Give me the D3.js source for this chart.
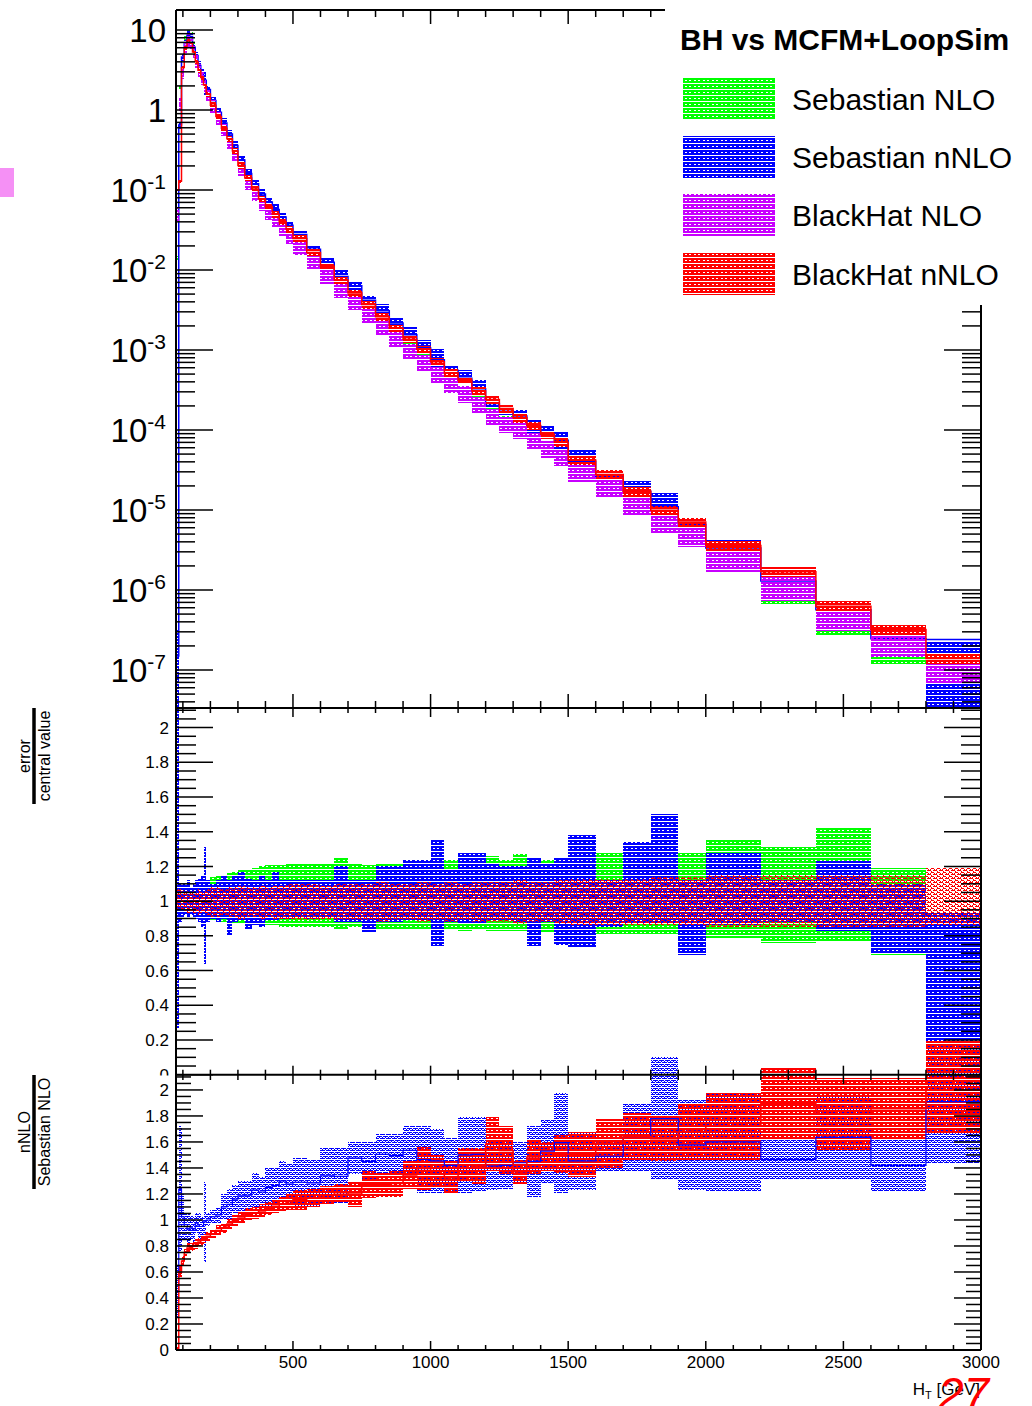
<!DOCTYPE html>
<html>
<head>
<meta charset="utf-8">
<script src="https://cdn.jsdelivr.net/npm/d3@7"></script>
<style>
  body { margin: 0; background: #fff; }
  svg { display: block; }
  text { font-family: "Liberation Sans", Arial, Helvetica, sans-serif; fill: #000; }
</style>
</head>
<body>
<svg id="chart" width="1032" height="1406"></svg>
<script>
// H_T bin edges [GeV]
const binEdges = [75,85,95,105,115,125,135,145,155,165,
  175,185,200,220,240,260,280,300,325,350,
  375,400,425,450,475,500,550,600,650,700,
  750,800,850,900,950,1000,1050,1100,1150,1200,
  1250,1300,1350,1400,1450,1500,1600,1700,1800,1900,
  2000,2200,2400,2600,2800,3000];

// dsigma/dH_T central values
const sebNLO = [0.014,1.9,4.5,8.0,9.3,8.8,6.6,4.9,3.8,3.0,
  2.4,1.8,1.28,0.9,0.63,0.45,0.31,0.2,0.135,0.098,
  0.073,0.057,0.045,0.0355,0.0285,0.0215,0.0142,0.0093,0.0062,0.0043,
  0.0029,0.00205,0.00146,0.00101,0.00073,0.00052,0.000393,0.000295,0.000217,0.000152,
  0.000121,0.000104,7.65e-5,5.94e-5,4.67e-5,2.8e-5,1.75e-5,1.04e-5,6.2e-6,4.2e-6,
  2.1e-6,8.9e-7,3.46e-7,1.73e-7,6.85e-8];
const sebNNLO = [1.5e-7,0.65,4.6,6.8,8.6,8.3,6.1,4.8,3.6,2.85,
  2.36,1.8,1.31,0.94,0.69,0.5,0.36,0.237,0.161,0.12,
  0.089,0.071,0.057,0.046,0.0363,0.0277,0.0182,0.01246,0.00828,0.00634,
  0.0042,0.00309,0.00218,0.00155,0.00107,0.000757,0.000558,0.000443,0.000327,0.000215,
  0.000172,0.00015,0.000111,9.09e-5,7.45e-5,4.07e-5,2.61e-5,1.71e-5,1.1e-5,6.6e-6,
  3.36e-6,1.3e-6,5.66e-7,2.46e-7,2.4e-7];
const bhNLO = [0.05,1.2,3.0,6.0,7.5,7.0,5.4,4.1,3.15,2.5,
  2.0,1.55,1.13,0.8,0.57,0.4,0.28,0.18,0.122,0.089,
  0.066,0.052,0.041,0.032,0.026,0.0196,0.013,0.0086,0.0058,0.004,
  0.0027,0.0019,0.00136,0.00095,0.00069,0.00049,0.00037,0.00028,0.000207,0.000147,
  0.000117,0.0001,7.4e-5,5.8e-5,4.6e-5,3.0e-5,1.9e-5,1.14e-5,6.8e-6,4.7e-6,
  2.4e-6,1.05e-6,4.4e-7,2.1e-7,9.5e-8];
const bhNNLO = [0.1,0.13,3.4,6.0,7.3,6.95,5.3,4.0,3.15,2.54,
  2.05,1.58,1.15,0.83,0.59,0.437,0.308,0.203,0.141,0.103,
  0.078,0.062,0.0497,0.04,0.0325,0.0248,0.0166,0.0111,0.0075,0.00516,
  0.0037,0.0026,0.00187,0.00136,0.00102,0.000715,0.000521,0.00042,0.000307,0.000241,
  0.000186,0.000142,0.000114,8.85e-5,7.03e-5,4.21e-5,2.78e-5,1.71e-5,9.9e-6,7.06e-6,
  3.61e-6,1.69e-6,6.28e-7,3.21e-7,1.39e-7];

// scale-variation band edges divided by the central value
const sebNLORelLo = [0.95,0.95,0.95,0.95,0.95,0.95,0.95,0.95,0.95,0.92,
  0.92,0.91,0.89,0.89,0.88,0.87,0.87,0.87,0.87,0.86,
  0.86,0.86,0.86,0.85,0.85,0.85,0.85,0.85,0.84,0.85,
  0.84,0.84,0.84,0.84,0.84,0.84,0.84,0.83,0.84,0.83,
  0.83,0.83,0.83,0.82,0.82,0.82,0.81,0.81,0.81,0.81,
  0.79,0.76,0.77,0.69,1.0];
const sebNLORelHi = [1.06,1.06,1.06,1.06,1.06,1.06,1.06,1.06,1.06,1.1,
  1.1,1.11,1.14,1.15,1.15,1.16,1.17,1.18,1.18,1.19,
  1.2,1.21,1.21,1.21,1.22,1.22,1.22,1.22,1.25,1.22,
  1.21,1.22,1.22,1.23,1.23,1.22,1.24,1.22,1.23,1.26,
  1.24,1.27,1.22,1.24,1.25,1.26,1.28,1.28,1.28,1.28,
  1.35,1.31,1.42,1.19,1.0];
const sebNNLORelLo = [0.27,0.88,0.9,0.92,0.9,0.92,0.9,0.9,0.88,0.85,
  0.64,0.88,0.9,0.88,0.9,0.8,0.88,0.89,0.84,0.86,
  0.85,0.89,0.89,0.9,0.9,0.91,0.9,0.91,0.88,0.88,
  0.82,0.88,0.88,0.89,0.89,0.74,0.88,0.87,0.87,0.89,
  0.89,0.88,0.74,0.88,0.75,0.73,0.85,0.87,0.87,0.69,
  0.86,0.88,0.83,0.7,0.0];
const sebNNLORelHi = [2.2,1.1,1.1,1.1,1.12,1.08,1.1,1.12,1.13,1.15,
  1.31,1.12,1.1,1.12,1.15,1.12,1.15,1.17,1.13,1.12,
  1.15,1.12,1.17,1.12,1.12,1.12,1.12,1.12,1.2,1.12,
  1.12,1.2,1.2,1.24,1.24,1.35,1.18,1.28,1.28,1.22,
  1.2,1.2,1.25,1.22,1.25,1.38,1.12,1.34,1.5,1.12,
  1.28,1.12,1.23,1.1,0.93];
const bhNLORelLo = [0.82,0.82,0.82,0.82,0.82,0.82,0.82,0.82,0.82,0.82,
  0.82,0.82,0.82,0.82,0.82,0.82,0.82,0.82,0.82,0.82,
  0.82,0.82,0.82,0.82,0.82,0.78,0.78,0.78,0.78,0.78,
  0.78,0.78,0.78,0.78,0.78,0.78,0.78,0.78,0.78,0.78,
  0.78,0.78,0.78,0.78,0.78,0.74,0.74,0.74,0.74,0.74,
  0.7,0.7,0.7,0.7,0.7];
const bhNLORelHi = [1.18,1.18,1.18,1.18,1.18,1.18,1.18,1.18,1.18,1.18,
  1.18,1.18,1.18,1.18,1.18,1.18,1.18,1.18,1.18,1.18,
  1.18,1.18,1.18,1.18,1.18,1.25,1.25,1.25,1.25,1.25,
  1.25,1.25,1.25,1.25,1.25,1.25,1.25,1.25,1.25,1.25,
  1.25,1.25,1.25,1.25,1.25,1.32,1.32,1.32,1.32,1.32,
  1.4,1.4,1.4,1.4,1.4];
const bhNNLORelLo = [0.95,0.95,0.95,0.93,0.93,0.94,0.93,0.93,0.92,0.93,
  0.93,0.92,0.91,0.91,0.92,0.91,0.91,0.9,0.91,0.91,
  0.9,0.91,0.9,0.9,0.9,0.89,0.89,0.9,0.89,0.89,
  0.89,0.88,0.89,0.89,0.88,0.89,0.88,0.89,0.88,0.88,
  0.88,0.87,0.88,0.88,0.87,0.86,0.86,0.86,0.86,0.86,
  0.85,0.85,0.85,0.85,0.86];
const bhNNLORelHi = [1.07,1.07,1.07,1.06,1.06,1.05,1.06,1.06,1.07,1.06,
  1.06,1.07,1.08,1.08,1.07,1.08,1.08,1.09,1.08,1.08,
  1.09,1.08,1.09,1.09,1.1,1.1,1.1,1.09,1.1,1.1,
  1.1,1.11,1.1,1.1,1.11,1.1,1.11,1.1,1.11,1.11,
  1.11,1.12,1.11,1.11,1.12,1.13,1.13,1.13,1.14,1.14,
  1.15,1.15,1.15,1.15,1.19];

// nNLO / Sebastian NLO ratio bands
const ratioSebLo = [0.25,0.75,0.85,0.85,0.8,0.85,0.82,0.9,0.85,0.88,
  0.68,0.95,0.97,0.98,1.0,1.0,1.05,1.07,1.08,1.1,
  1.1,1.1,1.13,1.15,1.12,1.1,1.1,1.13,1.12,1.35,
  1.3,1.35,1.33,1.35,1.21,1.21,1.21,1.21,1.22,1.23,
  1.24,1.28,1.18,1.28,1.21,1.23,1.38,1.38,1.31,1.23,
  1.22,1.31,1.31,1.22,1.44];
const ratioSebHi = [0.65,1.72,1.2,1.05,1.05,1.03,1.02,1.05,1.05,1.02,
  1.29,1.05,1.08,1.1,1.2,1.24,1.27,1.3,1.3,1.36,
  1.33,1.4,1.4,1.45,1.43,1.48,1.47,1.55,1.55,1.6,
  1.6,1.66,1.66,1.72,1.72,1.7,1.63,1.79,1.79,1.6,
  1.6,1.6,1.72,1.78,1.98,1.68,1.6,1.9,2.25,1.92,
  1.98,1.62,1.96,1.62,2.38];
const ratioBhLo = [0.0,0.55,0.65,0.72,0.75,0.76,0.77,0.78,0.8,0.81,
  0.82,0.84,0.86,0.88,0.9,0.93,0.95,0.97,1.0,1.01,
  1.02,1.04,1.05,1.07,1.08,1.08,1.1,1.12,1.14,1.1,
  1.17,1.18,1.18,1.24,1.23,1.25,1.2,1.3,1.28,1.38,
  1.35,1.28,1.35,1.38,1.36,1.33,1.4,1.46,1.45,1.46,
  1.46,1.62,1.54,1.62,1.67];
const ratioBhHi = [0.02,0.65,0.72,0.78,0.82,0.82,0.83,0.85,0.86,0.88,
  0.89,0.91,0.93,0.96,0.98,1.01,1.04,1.06,1.09,1.1,
  1.12,1.14,1.16,1.18,1.2,1.23,1.24,1.26,1.28,1.3,
  1.38,1.36,1.38,1.45,1.56,1.5,1.45,1.55,1.55,1.79,
  1.72,1.46,1.62,1.6,1.65,1.68,1.78,1.82,1.8,1.9,
  1.98,2.17,2.09,2.09,2.38];

const legendLabels = ["Sebastian NLO", "Sebastian nNLO", "BlackHat NLO", "BlackHat nNLO"];
const xTickLabels = [500, 1000, 1500, 2000, 2500, 3000];

const colGreen = "#00ff00", colBlue = "#0000ff", colViolet = "#c800ff", colRed = "#ff0000";

const svg = d3.select("#chart");
const defs = svg.append("defs");

// hatch-like fill patterns (gaps stay transparent so overlapping bands mix)
const patternSpecs = {
  dense: { w: 9, h: 6, r: [[0,0,9,2],[0,2,1,1],[3,2,2,1],[7,2,2,1],[0,3,9,2]] },
  light: { w: 6, h: 4, r: [[0,0,4,1],[5,0,1,1],[1,1,1,1],[4,1,1,1],[0,2,1,1],[2,2,4,1]] },
  rings: { w: 6, h: 4, r: [[1,0,3,1],[0,1,1,1],[4,1,1,1],[3,2,3,1],[1,3,1,1],[0,2,1,1]] }
};
function addPattern(id, color, kind) {
  const spec = patternSpecs[kind];
  const p = defs.append("pattern").attr("id", id)
    .attr("patternUnits", "userSpaceOnUse").attr("width", spec.w).attr("height", spec.h);
  p.selectAll("rect").data(spec.r).join("rect")
    .attr("x", d => d[0]).attr("y", d => d[1]).attr("width", d => d[2]).attr("height", d => d[3])
    .attr("fill", color).attr("shape-rendering", "crispEdges");
}
addPattern("pGreen", colGreen, "dense");
addPattern("pBlue", colBlue, "dense");
addPattern("pViolet", colViolet, "dense");
addPattern("pRed", colRed, "dense");
addPattern("pRedRings", colRed, "rings");
addPattern("pBlueLight", colBlue, "light");

// geometry of the three stacked pads
const X0 = 176, X1 = 981;
const topY0 = 10, topY1 = 708;
const midY0 = 708, midY1 = 1074.7;
const botY0 = 1075, botY1 = 1350;

const x = d3.scaleLinear().domain([75, 3000]).range([X0, X1]);
const yTop = d3.scaleLog().domain([Math.pow(10, -7.475), Math.pow(10, 1.25)]).range([topY1, topY0]).clamp(true);
const yMid = d3.scaleLinear().domain([0, 2.113]).range([midY1, midY0]);
const yBot = d3.scaleLinear().domain([0, 2.115]).range([botY1, botY0]);

function clip(id, y0, y1) {
  defs.append("clipPath").attr("id", id).append("rect")
    .attr("x", X0).attr("y", y0).attr("width", X1 - X0).attr("height", y1 - y0);
}
clip("cTop", topY0, topY1);
clip("cMid", 690, midY1);
clip("cBot", 1040, botY1);

const idx = d3.range(binEdges.length - 1);

function drawBands(g, yScale, lo, hi, fill) {
  const dmin = yScale.domain()[0];
  g.append("g").selectAll("rect").data(idx.filter(i => hi[i] > lo[i])).join("rect")
    .attr("x", i => x(binEdges[i]))
    .attr("width", i => x(binEdges[i + 1]) - x(binEdges[i]))
    .attr("y", i => yScale(hi[i]))
    .attr("height", i => Math.max(0, yScale(Math.max(lo[i], dmin)) - yScale(hi[i])))
    .attr("fill", `url(#${fill})`)
    .attr("shape-rendering", "crispEdges");
}

function drawStep(g, yScale, vals, color, width) {
  const pts = [];
  vals.forEach((v, i) => { pts.push([x(binEdges[i]), yScale(v)]); pts.push([x(binEdges[i + 1]), yScale(v)]); });
  g.append("path").attr("d", d3.line()(pts)).attr("fill", "none")
    .attr("stroke", color).attr("stroke-width", width);
}

// ---------- upper pad: differential cross section ----------
const gTop = svg.append("g").attr("clip-path", "url(#cTop)");
const scaleBy = (c, r) => c.map((v, i) => v * r[i]);
drawBands(gTop, yTop, scaleBy(sebNLO, sebNLORelLo), scaleBy(sebNLO, sebNLORelHi), "pGreen");
drawBands(gTop, yTop, scaleBy(sebNNLO, sebNNLORelLo), scaleBy(sebNNLO, sebNNLORelHi), "pBlue");
drawStep(gTop, yTop, sebNNLO, colBlue, 1.5);
drawBands(gTop, yTop, scaleBy(bhNLO, bhNLORelLo), scaleBy(bhNLO, bhNLORelHi), "pViolet");
drawBands(gTop, yTop, scaleBy(bhNNLO, bhNNLORelLo), scaleBy(bhNNLO, bhNNLORelHi), "pRed");
drawStep(gTop, yTop, bhNNLO, colRed, 1.5);

// ---------- middle pad: relative uncertainty ----------
const gMid = svg.append("g").attr("clip-path", "url(#cMid)");
drawBands(gMid, yMid, sebNLORelLo, sebNLORelHi, "pGreen");
drawBands(gMid, yMid, sebNNLORelLo, sebNNLORelHi, "pBlue");
drawBands(gMid, yMid, bhNNLORelLo, bhNNLORelHi, "pRedRings");

// ---------- lower pad: ratio to Sebastian NLO ----------
const gBot = svg.append("g").attr("clip-path", "url(#cBot)");
drawBands(gBot, yBot, ratioSebLo, ratioSebHi, "pBlueLight");
drawBands(gBot, yBot, ratioBhLo, ratioBhHi, "pRed");
drawStep(gBot, yBot, ratioSebLo.map((v, i) => (v + ratioSebHi[i]) / 2), colBlue, 1.2);
drawStep(gBot, yBot, ratioBhLo.map((v, i) => (v + ratioBhHi[i]) / 2), colRed, 1.5);

// ---------- frames, ticks and labels ----------
const axes = svg.append("g").attr("stroke", "#000").attr("fill", "none");

function hLine(y, x0, x1, w) {
  axes.append("line").attr("x1", x0).attr("x2", x1).attr("y1", y).attr("y2", y).attr("stroke-width", w);
}
function vLine(xp, y0, y1, w) {
  axes.append("line").attr("x1", xp).attr("x2", xp).attr("y1", y0).attr("y2", y1).attr("stroke-width", w);
}

// x ticks every 100 GeV, longer every 500 GeV
const xTicks = d3.range(1, 30).map(k => k * 100);
function xTickRow(y, dir, majLen, minLen) {
  xTicks.forEach(v => {
    const len = v % 500 === 0 ? majLen : minLen;
    vLine(x(v), y, y + dir * len, 1.5);
  });
}
function yTickRow(yScale, vals, isMajor, majLen, minLen, y0, y1) {
  vals.forEach(v => {
    const yp = yScale(v);
    if (yp < y0 - 0.5 || yp > y1 + 0.5) return;
    const len = isMajor(v) ? majLen : minLen;
    hLine(yp, X0, X0 + len, 1.5);
    hLine(yp, X1 - len, X1, 1.5);
  });
}

// upper pad ticks (log axis)
const decades = d3.range(-7, 2);
const logMinor = [];
d3.range(-8, 2).forEach(d => d3.range(2, 10).forEach(k => logMinor.push(k * Math.pow(10, d))));
yTickRow(yTop, decades.map(d => Math.pow(10, d)), () => true, 37, 19, topY0, topY1);
yTickRow(yTop, logMinor, () => false, 37, 19, topY0, topY1);
xTickRow(topY0, 1, 14, 7);
xTickRow(topY1, -1, 14, 7);

// middle and lower pad ticks (linear, minor every 0.05)
const linTicks = d3.range(0, 43).map(k => k * 0.05);
const linMajor = v => Math.abs(v * 5 - Math.round(v * 5)) < 1e-6;
yTickRow(yMid, linTicks, linMajor, 37, 20, midY0, midY1);
xTickRow(midY0, 1, 9, 5);
xTickRow(midY1, -1, 9, 5);
yTickRow(yBot, linTicks, linMajor, 27, 15, botY0, botY1);
xTickRow(botY0, 1, 9, 5);
xTickRow(botY1, -1, 9, 5);

// frame lines
hLine(topY0, X0, X1, 2);
hLine(topY1, X0, X1, 2);
hLine(midY1, X0, X1, 2);
hLine(botY1, X0, X1, 2);
vLine(X0, topY0, botY1, 2);
vLine(X1, topY0, botY1, 2);

// upper pad labels
const lblTop = svg.append("g").attr("text-anchor", "end");
decades.forEach(d => {
  const t = lblTop.append("text").attr("x", 166).attr("y", yTop(Math.pow(10, d)) + 12).attr("font-size", 33);
  if (d === 0) t.text("1");
  else if (d === 1) t.text("10");
  else {
    t.append("tspan").text("10");
    t.append("tspan").attr("font-size", 21).attr("dy", -13).text(String(d));
  }
});

// middle and lower pad labels
function linLabels(yScale) {
  const g = svg.append("g").attr("text-anchor", "end").attr("font-size", 17);
  d3.range(0, 11).map(k => k * 0.2).forEach(v => {
    g.append("text").attr("x", 169).attr("y", yScale(v)).attr("dy", "0.36em")
      .text(String(+v.toFixed(1)));
  });
}
linLabels(yMid);
// lower pad background starts at its frame and hides the lower half of the middle "0"
svg.append("rect").attr("x", 120).attr("y", 1075.5).attr("width", 54).attr("height", 9).attr("fill", "#fff");
linLabels(yBot);

// x labels
const lblX = svg.append("g").attr("text-anchor", "middle").attr("font-size", 17);
xTickLabels.forEach(v => lblX.append("text").attr("x", x(v)).attr("y", 1368).text(v));

const xt = svg.append("text").attr("x", 980).attr("y", 1395).attr("text-anchor", "end").attr("font-size", 17);
xt.append("tspan").text("H");
xt.append("tspan").attr("font-size", 11).attr("dy", 4).text("T");
xt.append("tspan").attr("dy", -4).text(" [GeV]");

// rotated y titles written as fractions
function fracTitle(cx, cy, num, den, half) {
  const g = svg.append("g").attr("transform", `translate(${cx},${cy}) rotate(-90)`);
  g.append("line").attr("x1", -half).attr("x2", half).attr("y1", 0).attr("y2", 0)
    .attr("stroke", "#000").attr("stroke-width", 3.5);
  g.append("text").attr("x", 0).attr("y", -4).attr("text-anchor", "middle").attr("font-size", 16).text(num);
  g.append("text").attr("x", 0).attr("y", 16).attr("text-anchor", "middle").attr("font-size", 16).text(den);
}
fracTitle(34, 756, "error", "central value", 48);
fracTitle(34, 1132, "nNLO", "Sebastian NLO", 57);

// ---------- legend ----------
const leg = svg.append("g");
leg.append("rect").attr("x", 665).attr("y", 0).attr("width", 367).attr("height", 305).attr("fill", "#fff");
leg.append("text").attr("x", 680).attr("y", 50).attr("font-size", 30).attr("font-weight", "bold")
  .text("BH vs MCFM+LoopSim");
const legFills = ["pGreen", "pBlue", "pViolet", "pRed"];
const legTops = [78, 136, 194, 253];
legendLabels.forEach((name, i) => {
  leg.append("rect").attr("x", 683).attr("y", legTops[i]).attr("width", 92).attr("height", 42)
    .attr("fill", `url(#${legFills[i]})`);
  leg.append("text").attr("x", 792).attr("y", legTops[i] + 32).attr("font-size", 30).text(name);
});

// slide decorations: page number and side marker
svg.append("text").attr("x", 938).attr("y", 1410).attr("font-size", 46).attr("font-style", "italic")
  .style("fill", "#ff0000").text("27");
svg.append("rect").attr("x", 0).attr("y", 168).attr("width", 14).attr("height", 29).attr("fill", "#f590f5");
</script>
</body>
</html>
